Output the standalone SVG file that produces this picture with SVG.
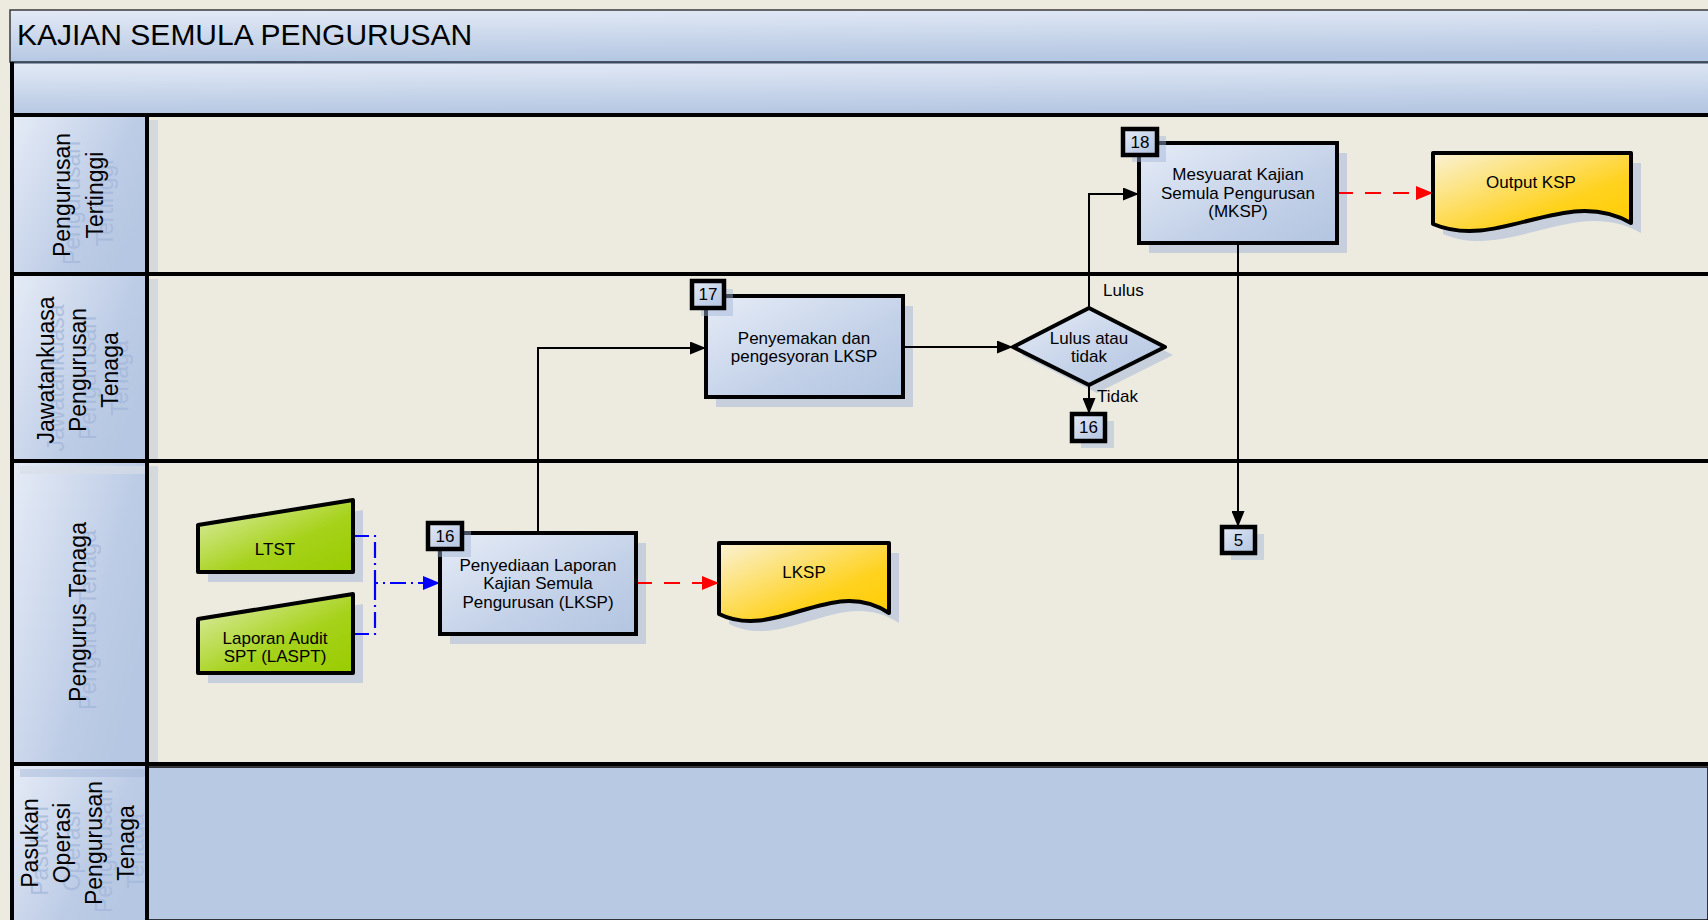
<svg xmlns="http://www.w3.org/2000/svg" width="1708" height="920" viewBox="0 0 1708 920">
<defs>
<linearGradient id="gBlue" x1="0" y1="0" x2="1" y2="1">
<stop offset="0" stop-color="#E6ECF7"/><stop offset="0.6" stop-color="#C3D1E8"/><stop offset="1" stop-color="#B3C5E1"/>
</linearGradient>
<linearGradient id="gBar" x1="0" y1="0" x2="0.15" y2="1">
<stop offset="0" stop-color="#E3EAF6"/><stop offset="1" stop-color="#B5C7E2"/>
</linearGradient>
<linearGradient id="gHead" x1="0" y1="0" x2="1" y2="0.6">
<stop offset="0" stop-color="#E6ECF7"/><stop offset="0.7" stop-color="#BDCCE6"/><stop offset="1" stop-color="#B5C7E2"/>
</linearGradient>
<linearGradient id="gGreen" x1="0" y1="0" x2="1" y2="1">
<stop offset="0" stop-color="#E2EFB5"/><stop offset="0.6" stop-color="#A6D21A"/><stop offset="1" stop-color="#99CC00"/>
</linearGradient>
<linearGradient id="gYellow" x1="0" y1="0" x2="1" y2="1">
<stop offset="0" stop-color="#FAF2D6"/><stop offset="0.65" stop-color="#FFD21E"/><stop offset="1" stop-color="#FFCC00"/>
</linearGradient>
<marker id="aBlack" markerUnits="userSpaceOnUse" markerWidth="16" markerHeight="13" viewBox="0 0 16 13" refX="16" refY="6.5" orient="auto"><path d="M0,0 L16,6.5 L0,13 z" fill="#000"/></marker>
<marker id="aRed" markerUnits="userSpaceOnUse" markerWidth="17" markerHeight="14" viewBox="0 0 17 14" refX="17" refY="7" orient="auto"><path d="M0,0 L17,7 L0,14 z" fill="#FF0000"/></marker>
<marker id="aBlue" markerUnits="userSpaceOnUse" markerWidth="17" markerHeight="14" viewBox="0 0 17 14" refX="17" refY="7" orient="auto"><path d="M0,0 L17,7 L0,14 z" fill="#0000FF"/></marker>
<style>
text{font-family:"Liberation Sans",Arial,sans-serif;fill:#000}
.lane{font-size:23px;text-anchor:middle}
.ghost{font-size:23px;text-anchor:middle;fill:#A3B7DA;opacity:0.75}
.nt{font-size:17px;text-anchor:middle}
.lbl{font-size:17px}
.box{fill:url(#gBlue);stroke:#000;stroke-width:4}
.badge{fill:url(#gBlue);stroke:#000;stroke-width:4.5}
.shadow{fill:#C6CFDB}
.bshadow{fill:#9FB4D6;opacity:0.45}
.sep{stroke:#000;stroke-width:4;fill:none}
.conn{stroke:#000;stroke-width:2;fill:none}
.red{stroke:#FF0000;stroke-width:2.2;fill:none;stroke-dasharray:16,12}
.blue{stroke:#0000FF;stroke-width:2.2;fill:none;stroke-dasharray:16,5,2,5}
</style>
</defs>
<rect x="0" y="0" width="1708" height="920" fill="#EDEBE0"/>

<g id="pool">
<rect x="10" y="10" width="1700" height="52" fill="url(#gBar)" stroke="#3A3A3A" stroke-width="1.5"/>
<text x="17" y="45" font-size="30">KAJIAN SEMULA PENGURUSAN</text>
<rect x="12" y="63" width="1698" height="52" fill="url(#gBar)"/>
<line x1="10" y1="62.5" x2="1708" y2="62.5" stroke="#3A4A60" stroke-width="2"/>
</g>

<g id="lane-bodies">
<rect x="147" y="115" width="1561" height="649" fill="#EDEBE0"/>
<rect x="149" y="120" width="9" height="154" fill="#D6D9DC"/>
<rect x="149" y="279" width="9" height="182" fill="#D6D9DC"/>
<rect x="149" y="466" width="9" height="298" fill="#D6D9DC"/>
<rect x="147" y="767" width="1561" height="153" fill="#B8C9E3" stroke="#000" stroke-width="1.5"/>
</g>

<g id="lane-headers">
<rect x="12" y="115" width="135" height="159" fill="url(#gHead)"/>
<rect x="12" y="274" width="135" height="187" fill="url(#gHead)"/>
<rect x="12" y="461" width="135" height="303" fill="url(#gHead)"/>
<rect x="12" y="764" width="135" height="156" fill="url(#gHead)"/>
<rect x="20" y="466" width="127" height="8" fill="#D8DEE6" opacity="0.6"/>
<rect x="20" y="769" width="127" height="8" fill="#9FB4D6" opacity="0.45"/>
</g>

<g id="lane-1">
<text class="ghost" transform="translate(80,203) rotate(-90)"><tspan x="0" y="0">Pengurusan</tspan><tspan x="0" y="33">Tertinggi</tspan></text>
<text class="lane" transform="translate(70,195) rotate(-90)"><tspan x="0" y="0">Pengurusan</tspan><tspan x="0" y="33">Tertinggi</tspan></text>
</g>
<g id="lane-2">
<text class="ghost" transform="translate(64,378) rotate(-90)"><tspan x="0" y="0">Jawatankuasa</tspan><tspan x="0" y="32">Pengurusan</tspan><tspan x="0" y="64">Tenaga</tspan></text>
<text class="lane" transform="translate(54,370) rotate(-90)"><tspan x="0" y="0">Jawatankuasa</tspan><tspan x="0" y="32">Pengurusan</tspan><tspan x="0" y="64">Tenaga</tspan></text>
</g>
<g id="lane-3">
<text class="ghost" transform="translate(96,620) rotate(-90)">Pengurus Tenaga</text>
<text class="lane" transform="translate(86,612) rotate(-90)">Pengurus Tenaga</text>
</g>
<g id="lane-4">
<text class="ghost" transform="translate(48,851) rotate(-90)"><tspan x="0" y="0">Pasukan</tspan><tspan x="0" y="32">Operasi</tspan><tspan x="0" y="64">Pengurusan</tspan><tspan x="0" y="96">Tenaga</tspan></text>
<text class="lane" transform="translate(38,843) rotate(-90)"><tspan x="0" y="0">Pasukan</tspan><tspan x="0" y="32">Operasi</tspan><tspan x="0" y="64">Pengurusan</tspan><tspan x="0" y="96">Tenaga</tspan></text>
</g>

<g id="lane-lines">
<line class="sep" x1="12" y1="115" x2="1708" y2="115"/>
<line class="sep" x1="12" y1="274" x2="1708" y2="274"/>
<line class="sep" x1="12" y1="461" x2="1708" y2="461"/>
<line class="sep" x1="12" y1="764" x2="1708" y2="764"/>
<line class="sep" x1="12" y1="62" x2="12" y2="920"/>
<line class="sep" x1="147" y1="115" x2="147" y2="920"/>
</g>

<g id="shadows">
<polygon class="shadow" points="208,535 363,510 363,582 208,582"/>
<polygon class="shadow" points="208,629 363,604 363,683 208,683"/>
<rect class="shadow" x="450" y="543" width="196" height="101"/>
<path class="shadow" d="M729,553 H899 V623 C842,585 786,652 729,624 Z"/>
<rect class="shadow" x="716" y="306" width="197" height="101"/>
<polygon class="shadow" points="1021,355 1097,316 1173,355 1097,393"/>
<rect class="shadow" x="1149" y="153" width="198" height="100"/>
<path class="shadow" d="M1443,163 H1641 V233 C1575,195 1509,262 1443,234 Z"/>
<rect class="bshadow" x="1081" y="421" width="33" height="27"/>
<rect class="bshadow" x="1231" y="534" width="33" height="26"/>
</g>

<g id="connectors">
<path class="blue" d="M353,536 H375 V583 H440" marker-end="url(#aBlue)"/>
<path class="blue" d="M353,634 H375 V583"/>
<path class="red" d="M636,583 H719" marker-end="url(#aRed)"/>
<path class="conn" d="M538,533 V348 H706" marker-end="url(#aBlack)"/>
<path class="conn" d="M903,347 H1013" marker-end="url(#aBlack)"/>
<path class="conn" d="M1089,308 V194 H1139" marker-end="url(#aBlack)"/>
<path class="conn" d="M1089,385 V414" marker-end="url(#aBlack)"/>
<path class="conn" d="M1238,243 V527" marker-end="url(#aBlack)"/>
<path class="red" d="M1337,193 H1433" marker-end="url(#aRed)"/>
</g>

<g id="node-ltst">
<polygon points="198,525 353,500 353,572 198,572" fill="url(#gGreen)" stroke="#000" stroke-width="4" stroke-linejoin="round"/>
<text class="nt" x="275" y="555">LTST</text>
</g>

<g id="node-laspt">
<polygon points="198,619 353,594 353,673 198,673" fill="url(#gGreen)" stroke="#000" stroke-width="4" stroke-linejoin="round"/>
<text class="nt" x="275" y="644">Laporan Audit</text>
<text class="nt" x="275" y="662">SPT (LASPT)</text>
</g>

<g id="node-16">
<rect class="box" x="440" y="533" width="196" height="101"/>
<text class="nt" x="538" y="571">Penyediaan Laporan</text>
<text class="nt" x="538" y="589">Kajian Semula</text>
<text class="nt" x="538" y="608">Pengurusan (LKSP)</text>
<rect class="bshadow" x="437" y="531" width="34" height="26"/>
<rect class="badge" x="428" y="523" width="34" height="26"/>
<text class="nt" x="445" y="542">16</text>
</g>

<g id="node-lksp">
<path d="M719,543 H889 V613 C832,575 776,642 719,614 Z" fill="url(#gYellow)" stroke="#000" stroke-width="4" stroke-linejoin="round"/>
<text class="nt" x="804" y="578">LKSP</text>
</g>

<g id="node-17">
<rect class="box" x="706" y="296" width="197" height="101"/>
<text class="nt" x="804" y="344">Penyemakan dan</text>
<text class="nt" x="804" y="362">pengesyoran LKSP</text>
<rect class="bshadow" x="701" y="289" width="32" height="27"/>
<rect class="badge" x="692" y="281" width="32" height="27"/>
<text class="nt" x="708" y="300">17</text>
</g>

<g id="node-decision">
<polygon points="1013,347 1089,308 1165,347 1089,385" fill="url(#gBlue)" stroke="#000" stroke-width="4" stroke-linejoin="round"/>
<text class="nt" x="1089" y="344">Lulus atau</text>
<text class="nt" x="1089" y="362">tidak</text>
</g>

<g id="node-ref16">
<rect class="badge" x="1072" y="414" width="33" height="27"/>
<text class="nt" x="1088.5" y="433">16</text>
</g>

<g id="node-18">
<rect class="box" x="1139" y="143" width="198" height="100"/>
<text class="nt" x="1238" y="180">Mesyuarat Kajian</text>
<text class="nt" x="1238" y="199">Semula Pengurusan</text>
<text class="nt" x="1238" y="217">(MKSP)</text>
<rect class="bshadow" x="1132" y="136" width="34" height="26"/>
<rect class="badge" x="1123" y="129" width="34" height="26"/>
<text class="nt" x="1140" y="148">18</text>
</g>

<g id="node-output">
<path d="M1433,153 H1631 V223 C1565,185 1499,252 1433,224 Z" fill="url(#gYellow)" stroke="#000" stroke-width="4" stroke-linejoin="round"/>
<text class="nt" x="1531" y="188">Output KSP</text>
</g>

<g id="node-ref5">
<rect class="badge" x="1222" y="527" width="33" height="26"/>
<text class="nt" x="1238.5" y="546">5</text>
</g>

<g id="connector-labels">
<text class="lbl" x="1103" y="296">Lulus</text>
<text class="lbl" x="1097" y="402">Tidak</text>
</g>
</svg>
